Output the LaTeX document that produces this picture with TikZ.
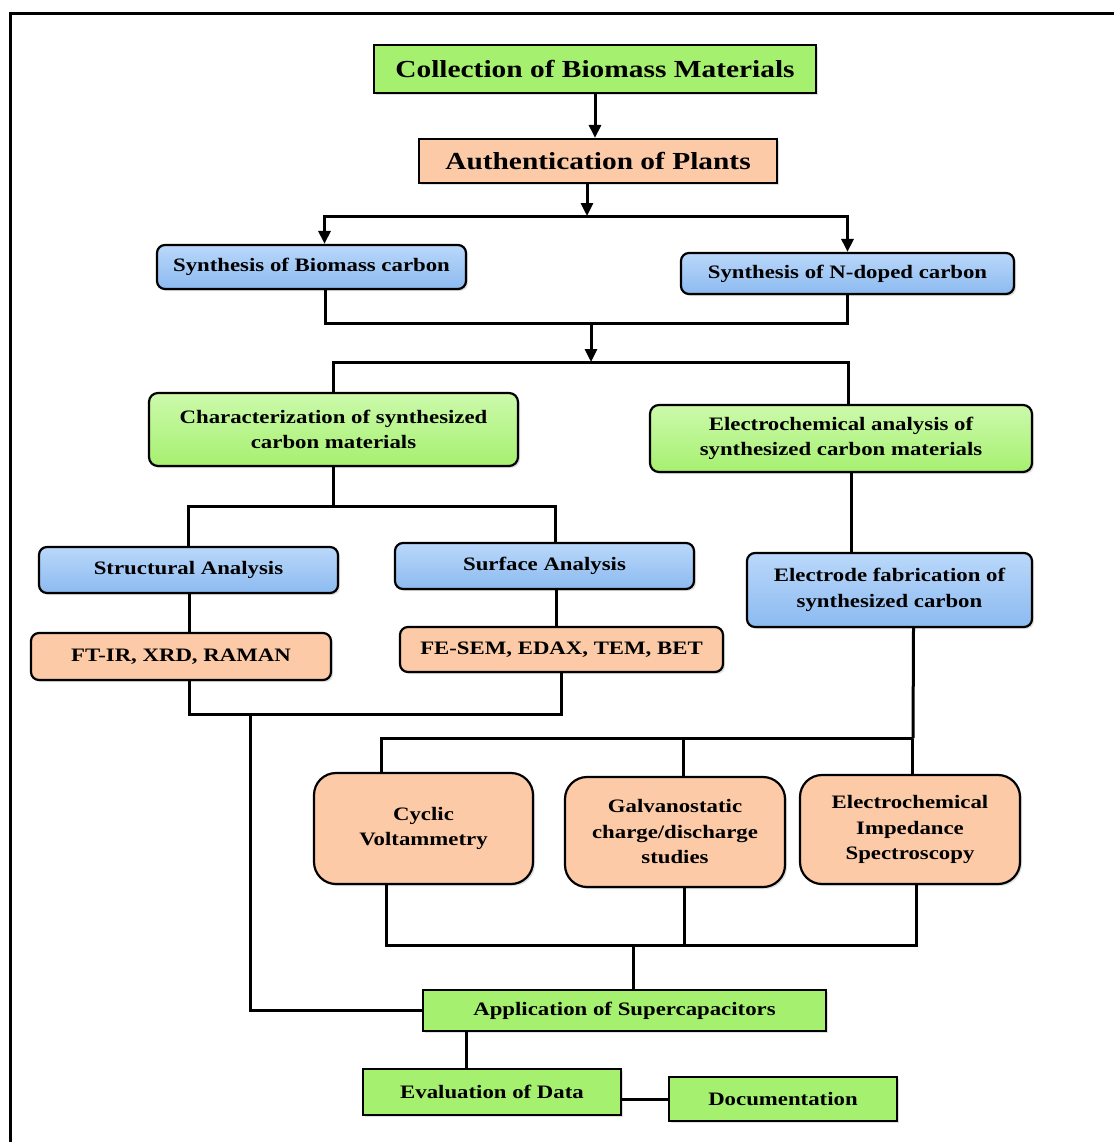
\documentclass[tikz,border=0pt]{standalone}
\usepackage{fontspec}
\setmainfont{Liberation Serif}[FakeStretch=1.2]
\usetikzlibrary{arrows.meta,shadows}
\definecolor{boxgreen}{RGB}{166,240,112}
\definecolor{boxgreenlt}{RGB}{204,250,172}
\definecolor{boxpeach}{RGB}{252,202,166}
\definecolor{boxblue}{RGB}{140,186,240}
\definecolor{boxbluelt}{RGB}{186,216,250}

\begin{document}
\begin{tikzpicture}[x=1pt,y=-1pt,
    box/.style={draw=black, line width=2.2pt, inner sep=0pt, align=center,
      font=\bfseries\fontsize{19}{25.5}\selectfont,
      drop shadow={shadow xshift=2pt, shadow yshift=-2pt, opacity=.25}},
    bigbox/.style={box, font=\bfseries\fontsize{24.5}{28}\selectfont},
    greenbox/.style={box, fill=boxgreen},
    greenround/.style={box, rounded corners=9pt, top color=boxgreenlt, bottom color=boxgreen},
    bluebox/.style={box, rounded corners=8pt, top color=boxbluelt, bottom color=boxblue},
    peachbox/.style={box, rounded corners=8pt, fill=boxpeach},
    peachbig/.style={box, rounded corners=22pt, fill=boxpeach},
    link/.style={line width=3pt},
    arr/.style={link, -{Triangle[length=13pt,width=12pt]}}]
  \useasboundingbox (0,0) rectangle (1114,1142);
  % outer frame
  \draw[line width=3pt] (10,1142) -- (10,14) -- (1114,14);

  % top of the flow
  \node[bigbox, fill=boxgreen, minimum width=442, minimum height=48] (coll) at (595,69) {Collection of Biomass Materials};
  \node[bigbox, fill=boxpeach, minimum width=358, minimum height=44] (auth) at (598,161) {Authentication of Plants};
  \node[bluebox, minimum width=309, minimum height=44] (synb) at (311.5,267) {Synthesis of Biomass carbon};
  \node[bluebox, minimum width=333, minimum height=41] (synn) at (847.5,273.5) {Synthesis of N-doped carbon};

  % characterization and electrochemistry
  \node[greenround, minimum width=369, minimum height=73] (char) at (333.5,429.5) {Characterization of synthesized\\carbon materials};
  \node[greenround, minimum width=382, minimum height=67] (elec) at (841,438.5) {Electrochemical analysis of\\synthesized carbon materials};
  \node[bluebox, minimum width=299, minimum height=46] (struct) at (188.5,570) {Structural Analysis};
  \node[bluebox, minimum width=299, minimum height=46] (surf) at (544.5,566) {Surface Analysis};
  \node[peachbox, minimum width=300, minimum height=47] (ftir) at (181,656.5) {FT-IR, XRD, RAMAN};
  \node[peachbox, minimum width=323, minimum height=45] (fesem) at (561.5,649.5) {FE-SEM, EDAX, TEM, BET};
  \node[bluebox, minimum width=285, minimum height=74] (electrode) at (889.5,590) {Electrode fabrication of\\synthesized carbon};

  % electrochemical tests
  \node[peachbig, minimum width=219, minimum height=111] (cv) at (423.5,828.5) {Cyclic\\Voltammetry};
  \node[peachbig, minimum width=220, minimum height=110] (gcd) at (675,832) {Galvanostatic\\charge/discharge\\studies};
  \node[peachbig, minimum width=220, minimum height=109] (eis) at (910,829.5) {Electrochemical\\Impedance\\Spectroscopy};

  % end of the flow
  \node[greenbox, minimum width=403, minimum height=41] (app) at (624.5,1010.5) {Application of Supercapacitors};
  \node[greenbox, minimum width=258, minimum height=46] (eval) at (492,1092) {Evaluation of Data};
  \node[greenbox, minimum width=228, minimum height=44] (doc) at (783,1099) {Documentation};

  % connectors
  \coordinate (j1) at (587,216);
  \coordinate (j2) at (591,323);
  \coordinate (j4) at (333.5,506);
  \coordinate (j5) at (250,714);
  \coordinate (j6) at (913,738);
  \coordinate (j7) at (633,945);
  \draw[arr] (coll.south) -- (coll.south |- auth.north);
  \draw[arr] (auth.south -| j1) -- (j1);
  \draw[arr] (j1) -| ([xshift=13]synb.north);
  \draw[arr] (j1) -| (synn.north);
  \draw[link] ([xshift=14]synb.south) |- (j2) -| (synn.south);
  \draw[arr] (j2) -- ++(0,39) coordinate (j3);
  \draw[link] (char.north) |- (j3) -| ([xshift=7]elec.north);
  \draw[link] (char.south) -- (j4);
  \draw[link] (struct.north) |- (j4) -| ([xshift=11]surf.north);
  \draw[link] ([xshift=1]struct.south) -- ([xshift=1]struct.south |- ftir.north);
  \draw[link] ([xshift=12]surf.south) -- ([xshift=12]surf.south |- fesem.north);
  \draw[link] ([xshift=8]ftir.south) |- (j5) -| (fesem.south);
  \draw[link] (j5) |- (app.west);
  \draw[link] ([xshift=10]elec.south) -- ([xshift=10]elec.south |- electrode.north);
  \draw[link] ([xshift=24]electrode.south) -- (j6);
  \draw[link] ([xshift=-42]cv.north) |- (j6) -| ([xshift=2]eis.north);
  \draw[link] ([xshift=8]gcd.north) -- ([xshift=8]gcd.north |- j6);
  \draw[link] ([xshift=-37]cv.south) |- (j7) -| ([xshift=6]eis.south);
  \draw[link] ([xshift=9]gcd.south) -- ([xshift=9]gcd.south |- j7);
  \draw[link] (j7) -- (j7 |- app.north);
  \draw[link] ([xshift=-158]app.south) -- ([xshift=-158]app.south |- eval.north);
  \draw[link] (doc.west) -- (doc.west -| eval.east);
\end{tikzpicture}
\end{document}
